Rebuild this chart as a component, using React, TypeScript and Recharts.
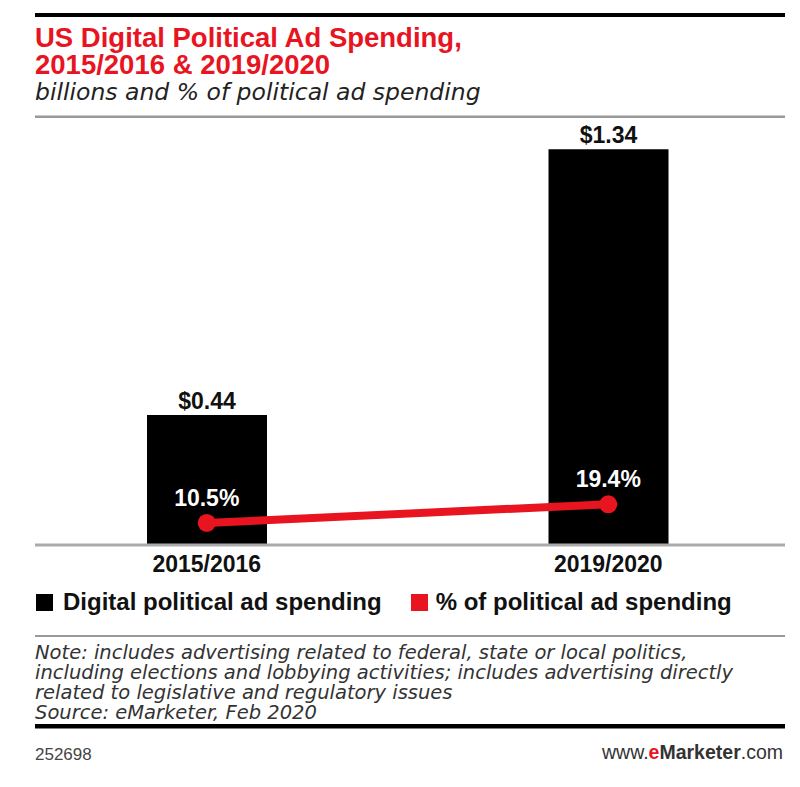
import React from 'react';
import { ComposedChart, Bar, Line, XAxis, YAxis, LabelList, Legend } from 'recharts';

const categories = ['2015/2016', '2019/2020'];
const spending = [0.44, 1.34];
const sharePct = [10.5, 19.4];
const seriesNames = ['Digital political ad spending', '% of political ad spending'];
const titleLines = ['US Digital Political Ad Spending,', '2015/2016 & 2019/2020'];
const subtitle = 'billions and % of political ad spending';
const noteLines = [
  'Note: includes advertising related to federal, state or local politics,',
  'including elections and lobbying activities; includes advertising directly',
  'related to legislative and regulatory issues',
  'Source: eMarketer, Feb 2020',
];
const chartId = '252698';

const RED = '#e8141f';
const FONT = '"Liberation Sans", Arial, sans-serif';
const WIDE = '"DejaVu Sans", sans-serif';

const data = categories.map((c, i) => ({ cat: c, spend: spending[i], share: sharePct[i] }));

const LegendContent = (props: any) => {
  const payload: any[] = props.payload || [];
  const ordered = seriesNames
    .map((n) => payload.find((p) => p.value === n))
    .filter(Boolean);
  return (
    <div style={{ display: 'flex', alignItems: 'center', height: 24, paddingLeft: 36, fontFamily: FONT }}>
      {ordered.map((p: any, i: number) => (
        <div key={p.value} style={{ display: 'flex', alignItems: 'center', marginLeft: i === 0 ? 0 : 29 }}>
          <div style={{ width: 17, height: 17, background: p.color, marginRight: i === 0 ? 10 : 8 }} />
          <span style={{ fontSize: 24, fontWeight: 700, lineHeight: '24px', color: '#111' }}>{p.value}</span>
        </div>
      ))}
    </div>
  );
};

export default function App() {
  return (
    <div style={{ position: 'absolute', left: 0, top: 0, width: 800, height: 787, background: '#fff', overflow: 'hidden' }}>
      <svg width={800} height={787} style={{ position: 'absolute', left: 0, top: 0 }} fontFamily={FONT}>
        <rect x={35} y={13} width={750} height={4} fill="#000" />
        <text x={35} y={47} fontSize={27.5} fontWeight={700} fill={RED}>{titleLines[0]}</text>
        <text x={35} y={74} fontSize={27.5} fontWeight={700} fill={RED}>{titleLines[1]}</text>
        <text x={35} y={100} fontSize={23.5} fontStyle="italic" fill="#222" fontFamily={WIDE}>{subtitle}</text>
        <rect x={35} y={115.5} width={750} height={2.5} fill="#999" />
        <rect x={35} y={635} width={750} height={2} fill="#999" />
        {noteLines.map((t, i) => (
          <text key={i} x={35} y={659 + i * 20} fontSize={19.5} fontStyle="italic" fill="#333" fontFamily={WIDE}>{t}</text>
        ))}
        <rect x={35} y={724} width={750} height={4.5} fill="#000" />
        <text x={35} y={760} fontSize={17} fill="#444">{chartId}</text>
        <text x={783} y={759} fontSize={19.5} textAnchor="end" fill="#333">
          <tspan>www.</tspan>
          <tspan fontWeight={700} fill={RED}>e</tspan>
          <tspan fontWeight={700}>Marketer</tspan>
          <tspan>.com</tspan>
        </text>
      </svg>
      <div style={{ position: 'absolute', left: 0, top: 0 }}>
        <ComposedChart
          width={800}
          height={630}
          data={data}
          margin={{ top: 102, right: 15, bottom: 55, left: 35 }}
          style={{ fontFamily: FONT }}
        >
          <XAxis
            dataKey="cat"
            padding={{ left: -29, right: -24 }}
            axisLine={{ stroke: '#aaa', strokeWidth: 3 }}
            tickLine={false}
            tickSize={6}
            tickMargin={5}
            tick={{ fontSize: 23, fontWeight: 700, fill: '#111' }}
          />
          <YAxis yAxisId="left" domain={[0, 1.5]} hide />
          <YAxis yAxisId="right" orientation="right" domain={[0, 211]} hide />
          <Legend
            verticalAlign="middle"
            align="center"
            layout="horizontal"
            wrapperStyle={{ top: 590, left: 0, width: 800 }}
            content={LegendContent}
          />
          <Bar
            yAxisId="left"
            dataKey="spend"
            name={seriesNames[0]}
            fill="#000"
            barSize={120}
            isAnimationActive={false}
          >
            <LabelList
              dataKey="spend"
              position="top"
              offset={6}
              formatter={(v: any) => `$${Number(v).toFixed(2)}`}
              style={{ fontSize: 23, fontWeight: 700, fill: '#111' }}
            />
          </Bar>
          <Line
            yAxisId="right"
            dataKey="share"
            name={seriesNames[1]}
            type="linear"
            stroke={RED}
            strokeWidth={8}
            dot={{ r: 9, fill: RED, stroke: 'none' }}
            activeDot={false}
            isAnimationActive={false}
          >
            <LabelList
              dataKey="share"
              position="top"
              offset={17}
              formatter={(v: any) => `${v}%`}
              style={{ fontSize: 23, fontWeight: 700, fill: '#fff' }}
            />
          </Line>
        </ComposedChart>
      </div>
    </div>
  );
}
